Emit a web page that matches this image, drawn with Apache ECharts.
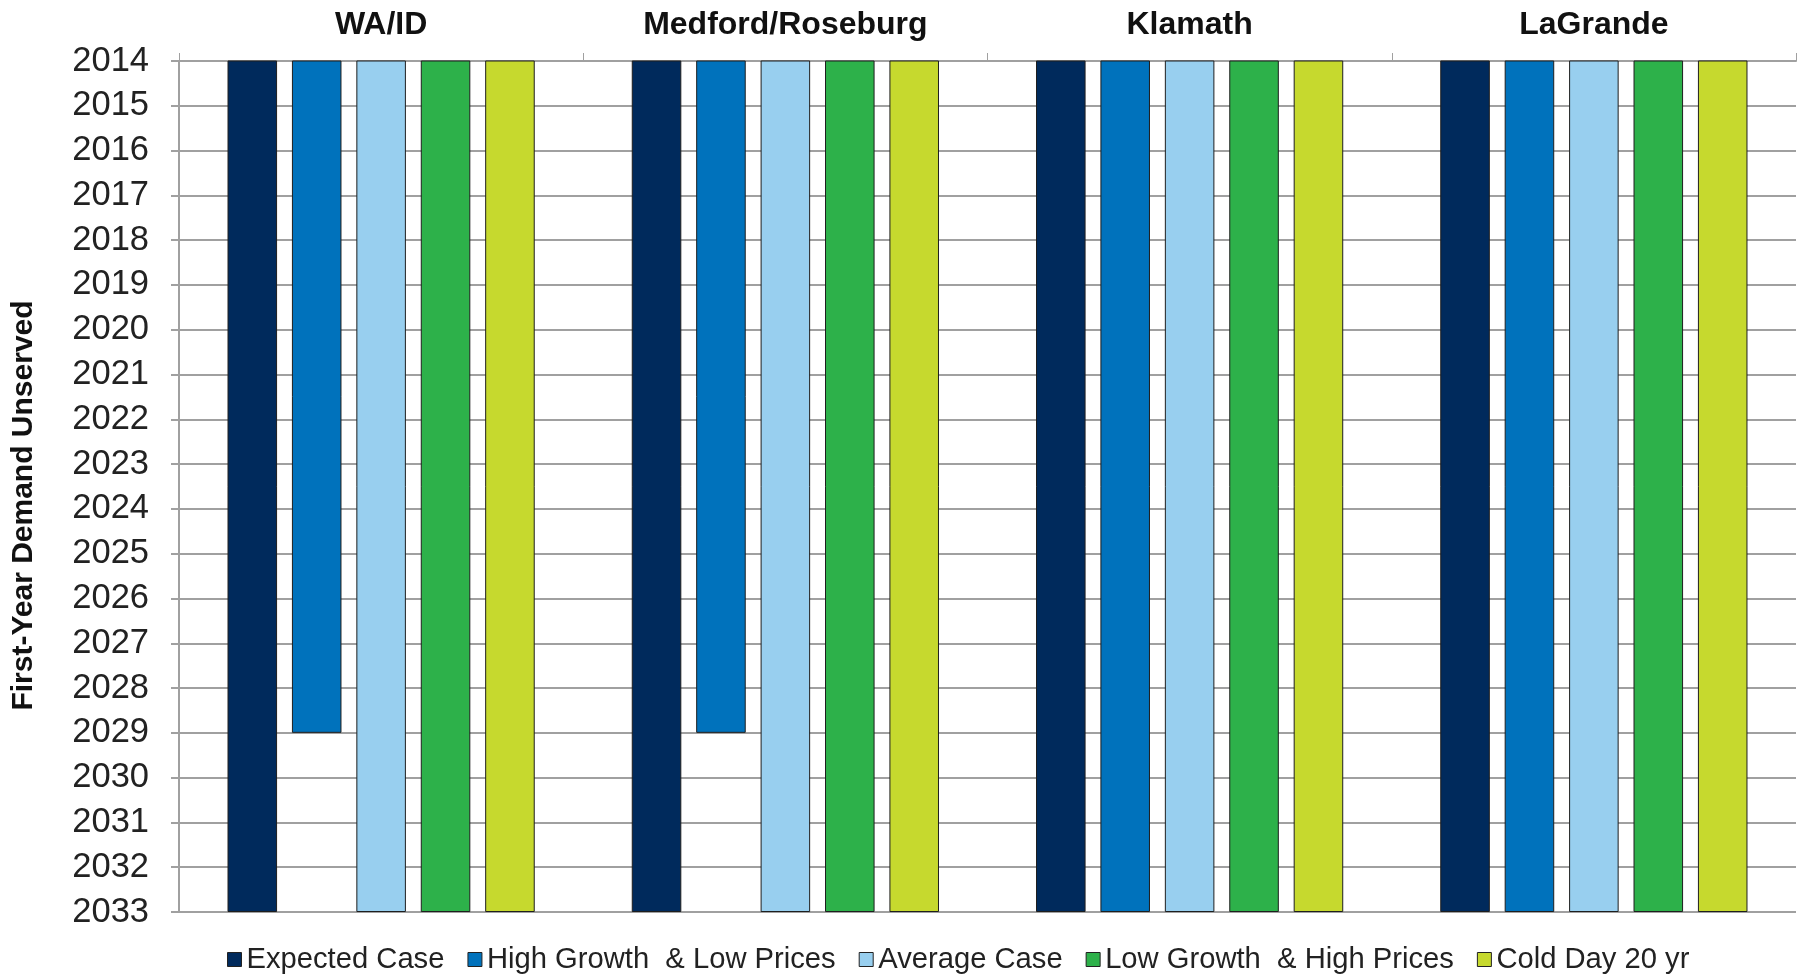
<!DOCTYPE html>
<html>
<head>
<meta charset="utf-8">
<script src="https://cdn.jsdelivr.net/npm/echarts@6/dist/echarts.min.js"></script>
<style>
html,body{margin:0;padding:0;background:#fff;}
#chart{width:1810px;height:975px;}
</style>
</head>
<body>
<div id="chart"></div>
<script>
const regions = ['WA/ID', 'Medford/Roseburg', 'Klamath', 'LaGrande'];
const seriesNames = ['Expected Case', 'High Growth  & Low Prices', 'Average Case', 'Low Growth  & High Prices', 'Cold Day 20 yr'];
const expectedCase = [2033, 2033, 2033, 2033];
const highGrowthLowPrices = [2029, 2029, 2033, 2033];
const averageCase = [2033, 2033, 2033, 2033];
const lowGrowthHighPrices = [2033, 2033, 2033, 2033];
const coldDay20yr = [2033, 2033, 2033, 2033];
const yearMin = 2014;
const yearMax = 2033;
const yAxisTitle = 'First-Year Demand Unserved';

const colors = ['#002A5C', '#0072BC', '#98CFEF', '#2DB14A', '#C6D92E'];
const allValues = [expectedCase, highGrowthLowPrices, averageCase, lowGrowthHighPrices, coldDay20yr];

const chart = echarts.init(document.getElementById('chart'));
const font = '"Liberation Sans", Arial, sans-serif';

chart.setOption({
  animation: false,
  color: colors,
  grid: { left: 179, right: 14, top: 61, bottom: 63, containLabel: false },
  legend: {
    left: 222, top: 940,
    itemWidth: 14, itemHeight: 14, itemGap: 23,
    icon: 'rect',
    textStyle: { fontFamily: font, fontSize: 29.2, color: '#222', padding: [0, 0, 0, 0] },
    itemStyle: { borderColor: '#222', borderWidth: 1 },
    data: seriesNames
  },
  xAxis: {
    type: 'category',
    position: 'top',
    data: regions,
    axisLine: { show: true, lineStyle: { color: '#a0a0a0', width: 2 } },
    axisTick: { show: true, length: 8, lineStyle: { color: '#a0a0a0', width: 1 } },
    axisLabel: { fontFamily: font, fontSize: 32, fontWeight: 'bold', color: '#111', margin: 20 },
    splitLine: { show: false }
  },
  yAxis: {
    type: 'value',
    inverse: true,
    min: yearMin, max: yearMax, interval: 1,
    name: yAxisTitle,
    nameLocation: 'middle',
    nameRotate: 90,
    nameGap: 140,
    nameTextStyle: { fontFamily: font, fontSize: 30, fontWeight: 'bold', color: '#111', padding: [0, 38, 0, 0] },
    axisLine: { show: true, lineStyle: { color: '#a0a0a0', width: 2 } },
    axisTick: { show: true, length: 8, lineStyle: { color: '#a0a0a0', width: 2 } },
    axisLabel: { fontFamily: font, fontSize: 34.5, color: '#222', margin: 30, formatter: v => String(v) },
    splitLine: { show: true, lineStyle: { color: '#a0a0a0', width: 2 } }
  },
  series: seriesNames.map((name, i) => ({
    name: name,
    type: 'bar',
    data: allValues[i],
    barGap: '30%',
    barCategoryGap: '24%',
    clip: true,
    itemStyle: { color: colors[i], borderColor: '#1e1e1e', borderWidth: 1 }
  }))
});
</script>
</body>
</html>
